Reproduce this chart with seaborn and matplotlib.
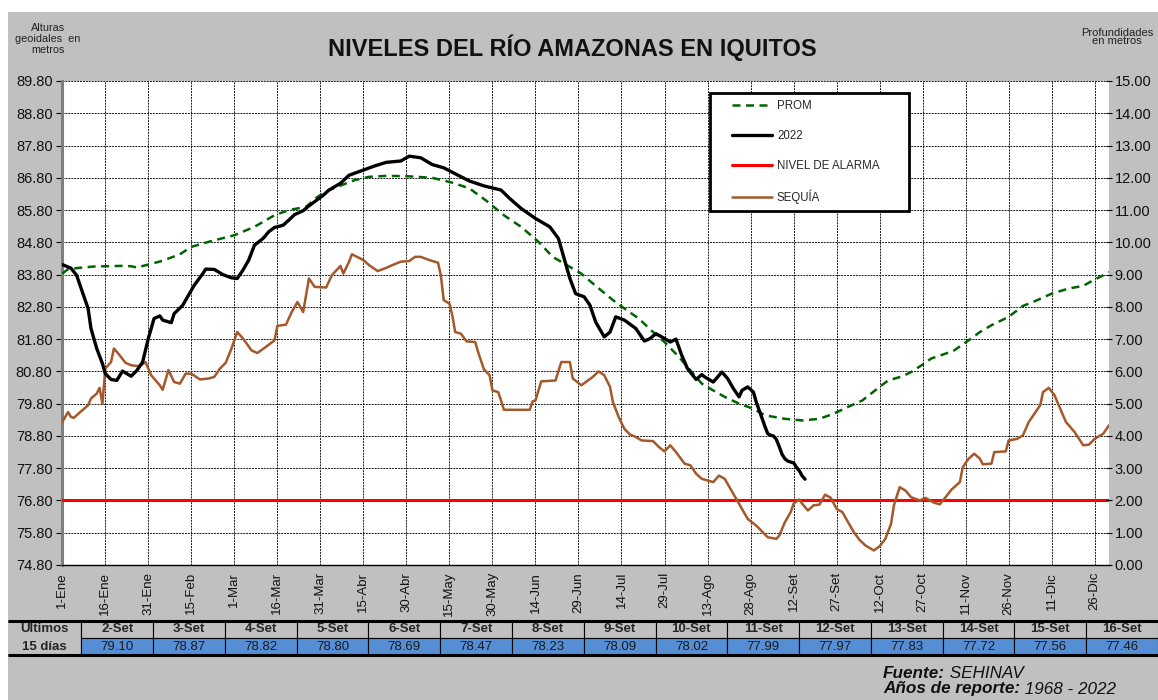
import numpy as np
import pandas as pd
import matplotlib
matplotlib.use("Agg")
import matplotlib.pyplot as plt
import seaborn as sns
from matplotlib.patches import Rectangle
from matplotlib.lines import Line2D

# ---------------- DATA ----------------
tick_dias = [1, 16, 31, 46, 61, 76, 91, 106, 121, 136, 151, 166, 181, 196, 211,
             226, 241, 256, 271, 286, 301, 316, 331, 346, 361]
tick_labels = ["1-Ene", "16-Ene", "31-Ene", "15-Feb", "1-Mar", "16-Mar", "31-Mar",
               "15-Abr", "30-Abr", "15-May", "30-May", "14-Jun", "29-Jun", "14-Jul",
               "29-Jul", "13-Ago", "28-Ago", "12-Set", "27-Set", "12-Oct", "27-Oct",
               "11-Nov", "26-Nov", "11-Dic", "26-Dic"]

prom_dias = [1, 3, 7, 12, 16, 22, 25, 27, 31, 36, 42, 46, 53, 61, 68, 75, 80, 86, 90, 94,
             103, 108, 114, 121, 130, 137, 143, 149, 155, 161, 167, 172, 177, 182, 187,
             193, 197, 202, 207, 211, 216, 221, 224, 228, 232, 237, 242, 246, 253, 259,
             265, 270, 275, 280, 283, 286, 289, 294, 297, 301, 304, 309, 312, 317, 321,
             325, 331, 336, 340, 346, 352, 357, 360, 364, 366]
prom_vals = [83.83, 83.97, 84.01, 84.05, 84.06, 84.07, 84.06, 84.02, 84.11, 84.23, 84.43,
             84.66, 84.84, 85.02, 85.28, 85.64, 85.80, 85.90, 86.21, 86.42,
             86.73, 86.83, 86.86, 86.85, 86.80, 86.65, 86.47, 86.08, 85.64, 85.28, 84.82,
             84.35, 84.09, 83.83, 83.45,
             83.01, 82.75, 82.44, 82.02, 81.71, 81.25, 80.73, 80.42, 80.21, 80.01, 79.80,
             79.64, 79.44, 79.33, 79.28,
             79.33, 79.49, 79.70, 79.90, 80.11, 80.32, 80.52, 80.65, 80.78, 81.01, 81.20,
             81.35, 81.45, 81.76, 82.02,
             82.23, 82.49, 82.83, 82.97, 83.21, 83.37, 83.45, 83.60, 83.78, 83.88]

# 2022 readings (until end of August)
y2022_dias = [1, 4, 6, 8, 10, 11, 13, 15, 16, 18, 20, 22, 25, 27, 29, 31, 33, 35, 36, 39,
              40, 43, 45, 47, 50, 51, 54, 57, 60, 62, 64, 66, 68, 71, 73, 75, 78, 80, 82,
              85, 87, 89, 92, 94, 98, 101, 106, 110, 114, 119, 122, 126, 130, 134, 139,
              143, 148, 154, 157, 161, 166, 171, 174, 176, 178, 180, 183, 185, 187, 190,
              192, 194, 197, 201, 204, 206, 208, 211, 213, 215, 217, 219, 222, 224, 225,
              228, 231, 233, 235, 237, 238, 240, 242, 243, 245]
y2022_vals = [84.11, 84.00, 83.78, 83.26, 82.75, 82.13, 81.51, 81.04, 80.73, 80.55, 80.52,
              80.81, 80.65, 80.83, 81.09, 81.82, 82.44, 82.52, 82.39, 82.31,
              82.59, 82.85, 83.16, 83.47, 83.83, 83.97, 83.96, 83.80, 83.70, 83.68, 83.94,
              84.25, 84.71, 84.92, 85.13, 85.26, 85.33, 85.49, 85.66,
              85.78, 85.93, 86.06, 86.26, 86.42, 86.63, 86.88, 87.04, 87.17, 87.28, 87.32,
              87.47, 87.42, 87.21, 87.11, 86.88,
              86.70, 86.55, 86.42, 86.16, 85.85, 85.54, 85.28, 84.92, 84.30, 83.68, 83.21,
              83.11, 82.85, 82.33, 81.87,
              82.02, 82.49, 82.39, 82.13, 81.74, 81.82, 81.97, 81.82, 81.71, 81.80, 81.30,
              80.89, 80.55, 80.70, 80.63,
              80.47, 80.78, 80.58, 80.27, 80.01, 80.21, 80.32, 80.16, 79.85, 79.35]

# Últimos 15 días (table)
ultimas_fechas = ["2-Set", "3-Set", "4-Set", "5-Set", "6-Set", "7-Set", "8-Set", "9-Set",
                  "10-Set", "11-Set", "12-Set", "13-Set", "14-Set", "15-Set", "16-Set"]
ultimos_valores = [79.10, 78.87, 78.82, 78.80, 78.69, 78.47, 78.23, 78.09, 78.02, 77.99,
                   77.97, 77.83, 77.72, 77.56, 77.46]
dia_2_set = 246  # day of year of 2-Set

sequia_dias = [1, 3, 4, 5, 7, 10, 11, 13, 14, 15, 16, 18, 19, 21, 23, 25, 28, 30, 32, 35,
               36, 38, 40, 42, 44, 46, 49, 52, 54, 56, 58, 60, 62, 64, 67, 69, 72, 75, 76,
               79, 81, 83, 85, 87, 89, 93, 95, 98, 99, 101, 102, 106, 108, 111, 114, 116,
               119, 122, 124, 126, 129, 132, 133, 134, 136, 137, 138, 140, 142, 145, 146,
               148, 150, 151, 153, 154, 155, 164, 165, 166, 168, 173, 175, 178, 179, 182,
               186, 188, 190, 192, 193, 195, 197, 199, 201, 203, 207, 209, 211, 213, 215,
               218, 220, 222, 224, 226, 228, 230, 232, 234, 236, 238, 240, 243, 245, 247,
               250, 251, 253, 255, 256, 258, 259, 261, 263, 265, 267, 269, 271, 273, 275,
               277, 279, 281, 284, 286, 288, 290, 291, 293, 295, 297, 300, 302, 305, 307,
               309, 311, 314, 315, 317, 319, 321, 322, 325, 326, 330, 331, 334, 336, 338,
               340, 342, 343, 345, 347, 349, 351, 354, 357, 359, 361, 364, 366]
sequia_vals = [79.23, 79.54, 79.39, 79.36, 79.52, 79.75, 79.96, 80.11, 80.29, 79.80, 80.89,
               81.09, 81.51, 81.30, 81.07, 80.99, 80.96, 81.09, 80.68, 80.37,
               80.23, 80.84, 80.47, 80.42, 80.73, 80.73, 80.55, 80.58, 80.63, 80.89, 81.07,
               81.51, 82.02, 81.82, 81.45, 81.37, 81.56, 81.76, 82.21,
               82.25, 82.64, 82.95, 82.64, 83.68, 83.42, 83.40, 83.78, 84.07, 83.83, 84.20,
               84.43, 84.25, 84.09, 83.91, 84.01, 84.09,
               84.20, 84.22, 84.35, 84.35, 84.25, 84.17, 83.78, 83.01, 82.90, 82.54, 82.02,
               81.97, 81.73, 81.71, 81.40,
               80.87, 80.68, 80.21, 80.16, 79.90, 79.61, 79.61, 79.87, 79.90, 80.49, 80.52,
               81.09, 81.09, 80.58, 80.37,
               80.63, 80.80, 80.68, 80.32, 79.85, 79.39, 79.02, 78.84, 78.77, 78.66, 78.64,
               78.46, 78.32, 78.51, 78.30,
               77.94, 77.89, 77.63, 77.47, 77.42, 77.37, 77.57, 77.47, 77.16, 76.85, 76.54,
               76.23, 76.02, 75.84, 75.66,
               75.61, 75.71, 76.13, 76.44, 76.70, 76.83, 76.70, 76.49, 76.65, 76.67, 76.98,
               76.88, 76.54, 76.44, 76.13,
               75.82, 75.58, 75.41, 75.25, 75.38, 75.61, 76.08, 76.65, 77.21, 77.11, 76.90,
               76.80, 76.88, 76.73, 76.68,
               76.90, 77.13, 77.37, 77.83, 78.09, 78.25, 78.09, 77.92, 77.94, 78.30, 78.32,
               78.66, 78.71, 78.82, 79.23,
               79.49, 79.75, 80.16, 80.29, 80.06, 79.64, 79.23, 78.92, 78.51, 78.53, 78.71,
               78.87, 79.13]

nivel_alarma = 76.80
cero_profundidad = 74.80
y_min, y_max = 74.80, 89.80

# ---------------- FIGURE ----------------
sns.set_style("white")
plt.rcParams["font.family"] = ["Liberation Sans", "DejaVu Sans"]

W, H = 1158, 700
fig = plt.figure(figsize=(W / 100, H / 100), dpi=100)
fig.patch.set_facecolor("white")
fig.patches.append(Rectangle((8 / W, 0), 1 - 8 / W, 1 - 12 / H, transform=fig.transFigure,
                             facecolor="#C0C0C0", edgecolor="none", zorder=-10))

ax = fig.add_axes([62.3 / W, 1 - 565 / H, (1109 - 62.3) / W, (565 - 81) / H])
ax.set_facecolor("white")

df2022 = pd.DataFrame({
    "dia": y2022_dias + [dia_2_set + i for i in range(len(ultimos_valores))],
    "nivel": y2022_vals + ultimos_valores,
})

c_prom, c_2022, c_alarma, c_sequia = "#006400", "#000000", "#FF0000", "#A5582A"

ax.axhline(nivel_alarma, color=c_alarma, lw=2.2, zorder=3)
sns.lineplot(x=sequia_dias, y=sequia_vals, ax=ax, color=c_sequia, lw=1.8, zorder=4)
sns.lineplot(x=prom_dias, y=prom_vals, ax=ax, color=c_prom, lw=1.8,
             linestyle=(0, (3.2, 2.2)), zorder=5)
sns.lineplot(data=df2022, x="dia", y="nivel", ax=ax, color=c_2022, lw=2.4, zorder=6)

ax.set_xlim(1, 366)
ax.set_ylim(y_min, y_max)
yt = np.arange(y_min, y_max + 0.01, 1.0)
ax.set_yticks(yt)
ax.set_yticklabels([f"{v:.2f}" for v in yt])
ax.set_xticks(tick_dias)
ax.set_xticklabels(tick_labels, rotation=90)
ax.set_xlabel("")
ax.set_ylabel("")

ax.grid(True, color="#1a1a1a", linestyle=(0, (2, 1)), lw=0.7)
ax.set_axisbelow(True)
for s in ["top", "right"]:
    ax.spines[s].set_visible(False)
ax.spines["left"].set_color("#7F7F7F")
ax.spines["left"].set_linewidth(2.2)
ax.spines["bottom"].set_color("black")
ax.spines["bottom"].set_linewidth(1.0)
ax.tick_params(axis="y", direction="out", length=4, width=0.8, color="black",
               labelsize=10.5, pad=3, labelcolor="#111111")
ax.tick_params(axis="x", direction="inout", length=6, width=0.8, color="black",
               labelsize=9.5, pad=2, labelcolor="#111111")

ax2 = ax.twinx()
ax2.set_ylim(y_min - cero_profundidad, y_max - cero_profundidad)
yt2 = np.arange(0, y_max - cero_profundidad + 0.01, 1.0)
ax2.set_yticks(yt2)
ax2.set_yticklabels([f"{v:.2f}" for v in yt2])
for s in ax2.spines.values():
    s.set_visible(False)
ax2.patch.set_visible(False)
ax2.tick_params(axis="y", direction="inout", length=4, width=0.8, color="black",
                labelsize=10.5, pad=2, labelcolor="#111111")
ax2.grid(False)

# legend: frame drawn as a box, entries from a frameless legend
frame = Rectangle((710 / W, 1 - 211 / H), 199 / W, 118 / H, transform=fig.transFigure,
                  facecolor="white", edgecolor="black", lw=2.0, zorder=10, clip_on=False)
ax2.add_patch(frame)
handles = [
    Line2D([], [], color=c_prom, lw=1.8, linestyle=(0, (3.2, 2.2))),
    Line2D([], [], color=c_2022, lw=2.4),
    Line2D([], [], color=c_alarma, lw=2.2),
    Line2D([], [], color=c_sequia, lw=1.8),
]
labels = ["PROM", "2022", "NIVEL DE ALARMA", "SEQUÍA"]
leg = ax2.legend(handles, labels, loc="upper left", bbox_to_anchor=(732 / W, 1 - 100 / H),
                 bbox_transform=fig.transFigure, frameon=False, fontsize=8.3,
                 handlelength=3.5, handletextpad=0.4, labelspacing=1.55, borderpad=0,
                 borderaxespad=0)
leg.set_zorder(20)

# texts
fig.text(572 / W, 1 - 48 / H, "NIVELES DEL RÍO AMAZONAS EN IQUITOS", ha="center",
         va="center", fontsize=17, fontweight="bold", color="#111111")
fig.text(48 / W, 1 - 39 / H, "Alturas\ngeoidales  en\nmetros", ha="center", va="center",
         fontsize=7.8, linespacing=1.15, color="#222222")
fig.text(1117 / W, 1 - 37 / H, "Profundidades\nen metros", ha="center", va="center",
         fontsize=8, linespacing=0.85, color="#222222")

# table
tab_ax = fig.add_axes([8 / W, 1 - 655 / H, (W - 8) / W, 34 / H])
tab_ax.axis("off")
first_w = 73.5
col_w = [first_w] + [72.0] * len(ultimas_fechas)
tot = sum(col_w)
col_w = [c / tot for c in col_w]
cell_text = [["Últimos"] + ultimas_fechas,
             ["15 días"] + [f"{v:.2f}" for v in ultimos_valores]]
tbl = tab_ax.table(cellText=cell_text, colWidths=col_w, bbox=[0, 0, 1, 1], cellLoc="center")
tbl.auto_set_font_size(False)
tbl.set_fontsize(9.5)
for (r, c), cell in tbl.get_celld().items():
    cell.set_edgecolor("black")
    cell.set_linewidth(0.8)
    txt = cell.get_text()
    if c == 0:
        cell.set_facecolor("#C0C0C0")
        txt.set_fontweight("bold")
        cell.visible_edges = "TR" if r == 0 else "BR"
    elif r == 0:
        cell.set_facecolor("#C0C0C0")
        txt.set_fontweight("bold")
    else:
        cell.set_facecolor("#558ED5")
        txt.set_color("#1a1a1a")
for yy in (0, 1):
    tab_ax.plot([0, 1], [yy, yy], transform=tab_ax.transAxes, color="black", lw=2.2,
                clip_on=False, solid_capstyle="butt")

# footer
t1 = fig.text(883 / W, 1 - 674 / H, "Fuente:", fontsize=12.3, fontweight="bold",
              style="italic", va="center", color="#111111")
tab_ax.annotate(" SEHINAV", xy=(1, 0.5), xycoords=t1, va="center", ha="left",
                fontsize=12.3, style="italic", color="#111111")
t2 = fig.text(883 / W, 1 - 689 / H, "Años de reporte:", fontsize=12.3, fontweight="bold",
              style="italic", va="center", color="#111111")
tab_ax.annotate(" 1968 - 2022", xy=(1, 0.5), xycoords=t2, va="center", ha="left",
                fontsize=12.3, style="italic", color="#111111")

fig.savefig("out.png", dpi=100)
